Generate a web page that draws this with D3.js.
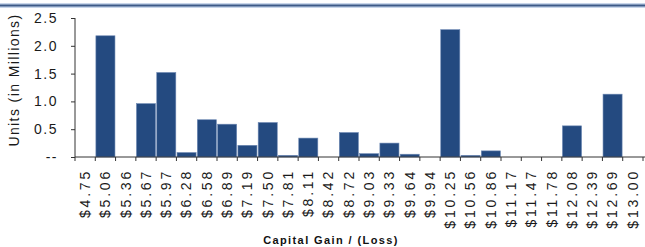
<!DOCTYPE html>
<html>
<head>
<meta charset="utf-8">
<script src="https://cdn.jsdelivr.net/npm/d3@7"></script>
<style>
  body { margin: 0; background: #fff; }
  svg { display: block; font-family: Arial, "Liberation Sans", sans-serif; }
</style>
</head>
<body>
<svg id="chart"></svg>
<script>
// price buckets along the x axis
const prices = ["$4.75", "$5.06", "$5.36", "$5.67", "$5.97", "$6.28", "$6.58", "$6.89",
  "$7.19", "$7.50", "$7.81", "$8.11", "$8.42", "$8.72", "$9.03", "$9.33", "$9.64",
  "$9.94", "$10.25", "$10.56", "$10.86", "$11.17", "$11.47", "$11.78", "$12.08",
  "$12.39", "$12.69", "$13.00"];
// units in millions
const units = [0, 2.18, 0, 0.96, 1.52, 0.08, 0.67, 0.59,
  0.21, 0.62, 0.03, 0.34, 0, 0.44, 0.06, 0.25, 0.05,
  0, 2.29, 0.03, 0.11, 0, 0, 0, 0.56,
  0, 1.13, 0];
const yTicks = [0, 0.5, 1.0, 1.5, 2.0, 2.5];

const width = 645, height = 247;
const plotLeft = 75, plotRight = 643, plotTop = 18, plotBottom = 157;

const svg = d3.select("#chart")
  .attr("width", width)
  .attr("height", height);

// rule across the top
svg.append("rect").attr("x", 0).attr("y", 3).attr("width", width).attr("height", 5).attr("fill", "#c9d6ea");
svg.append("rect").attr("x", 0).attr("y", 4.5).attr("width", width).attr("height", 2).attr("fill", "#3d5a88");

const x = d3.scaleBand().domain(prices).range([plotLeft, plotRight]).paddingInner(0.06).paddingOuter(0.03);
const y = d3.scaleLinear().domain([0, 2.5]).range([plotBottom, plotTop]);

// bars
svg.append("g")
  .selectAll("rect")
  .data(units.map((v, i) => ({p: prices[i], v})).filter(d => d.v > 0))
  .join("rect")
  .attr("x", d => x(d.p))
  .attr("y", d => y(d.v))
  .attr("width", x.bandwidth())
  .attr("height", d => y(0) - y(d.v))
  .attr("fill", "#244a80")
  .attr("stroke", "#6d88b3")
  .attr("stroke-width", 0.6);

// y axis
const yAxis = svg.append("g")
  .attr("transform", `translate(${plotLeft},0)`)
  .call(d3.axisLeft(y).tickValues(yTicks).tickSize(4)
    .tickFormat(d => d === 0 ? "--" : d3.format(".1f")(d)));
yAxis.select(".domain").attr("stroke", "#333").attr("d", `M0,${plotTop}V${plotBottom}`);
yAxis.selectAll(".tick line").attr("stroke", "#333");
yAxis.selectAll(".tick text")
  .attr("x", -17)
  .attr("fill", "#1a1a1a")
  .style("font-size", "14px")
  .style("letter-spacing", "1.5px")
  .style("font-family", "Arial, 'Liberation Sans', sans-serif");

// x axis line and bin-edge ticks
const edges = d3.range(prices.length + 1).map(i => plotLeft + i * (plotRight - plotLeft) / prices.length);
svg.append("line")
  .attr("x1", plotLeft).attr("x2", width).attr("y1", plotBottom).attr("y2", plotBottom)
  .attr("stroke", "#333");
svg.append("g")
  .selectAll("line")
  .data(edges)
  .join("line")
  .attr("x1", d => d).attr("x2", d => d)
  .attr("y1", plotBottom).attr("y2", plotBottom + 4)
  .attr("stroke", "#333");

// x labels
svg.append("g")
  .selectAll("text")
  .data(prices)
  .join("text")
  .attr("transform", d => `translate(${x(d) + x.bandwidth() / 2},169) rotate(-90)`)
  .attr("text-anchor", "end")
  .attr("dy", "0.35em")
  .attr("fill", "#1a1a1a")
  .style("font-size", "14px")
  .style("letter-spacing", "2.8px")
  .text(d => d);

// titles
svg.append("text")
  .attr("transform", `translate(19,80) rotate(-90)`)
  .attr("text-anchor", "middle")
  .attr("fill", "#1a1a1a")
  .style("font-size", "14px")
  .style("letter-spacing", "1.4px")
  .text("Units (in Millions)");

svg.append("text")
  .attr("x", 331).attr("y", 244)
  .attr("text-anchor", "middle")
  .attr("fill", "#111")
  .style("font-size", "11px")
  .style("font-weight", "bold")
  .style("letter-spacing", "1.4px")
  .text("Capital Gain / (Loss)");
</script>
</body>
</html>
